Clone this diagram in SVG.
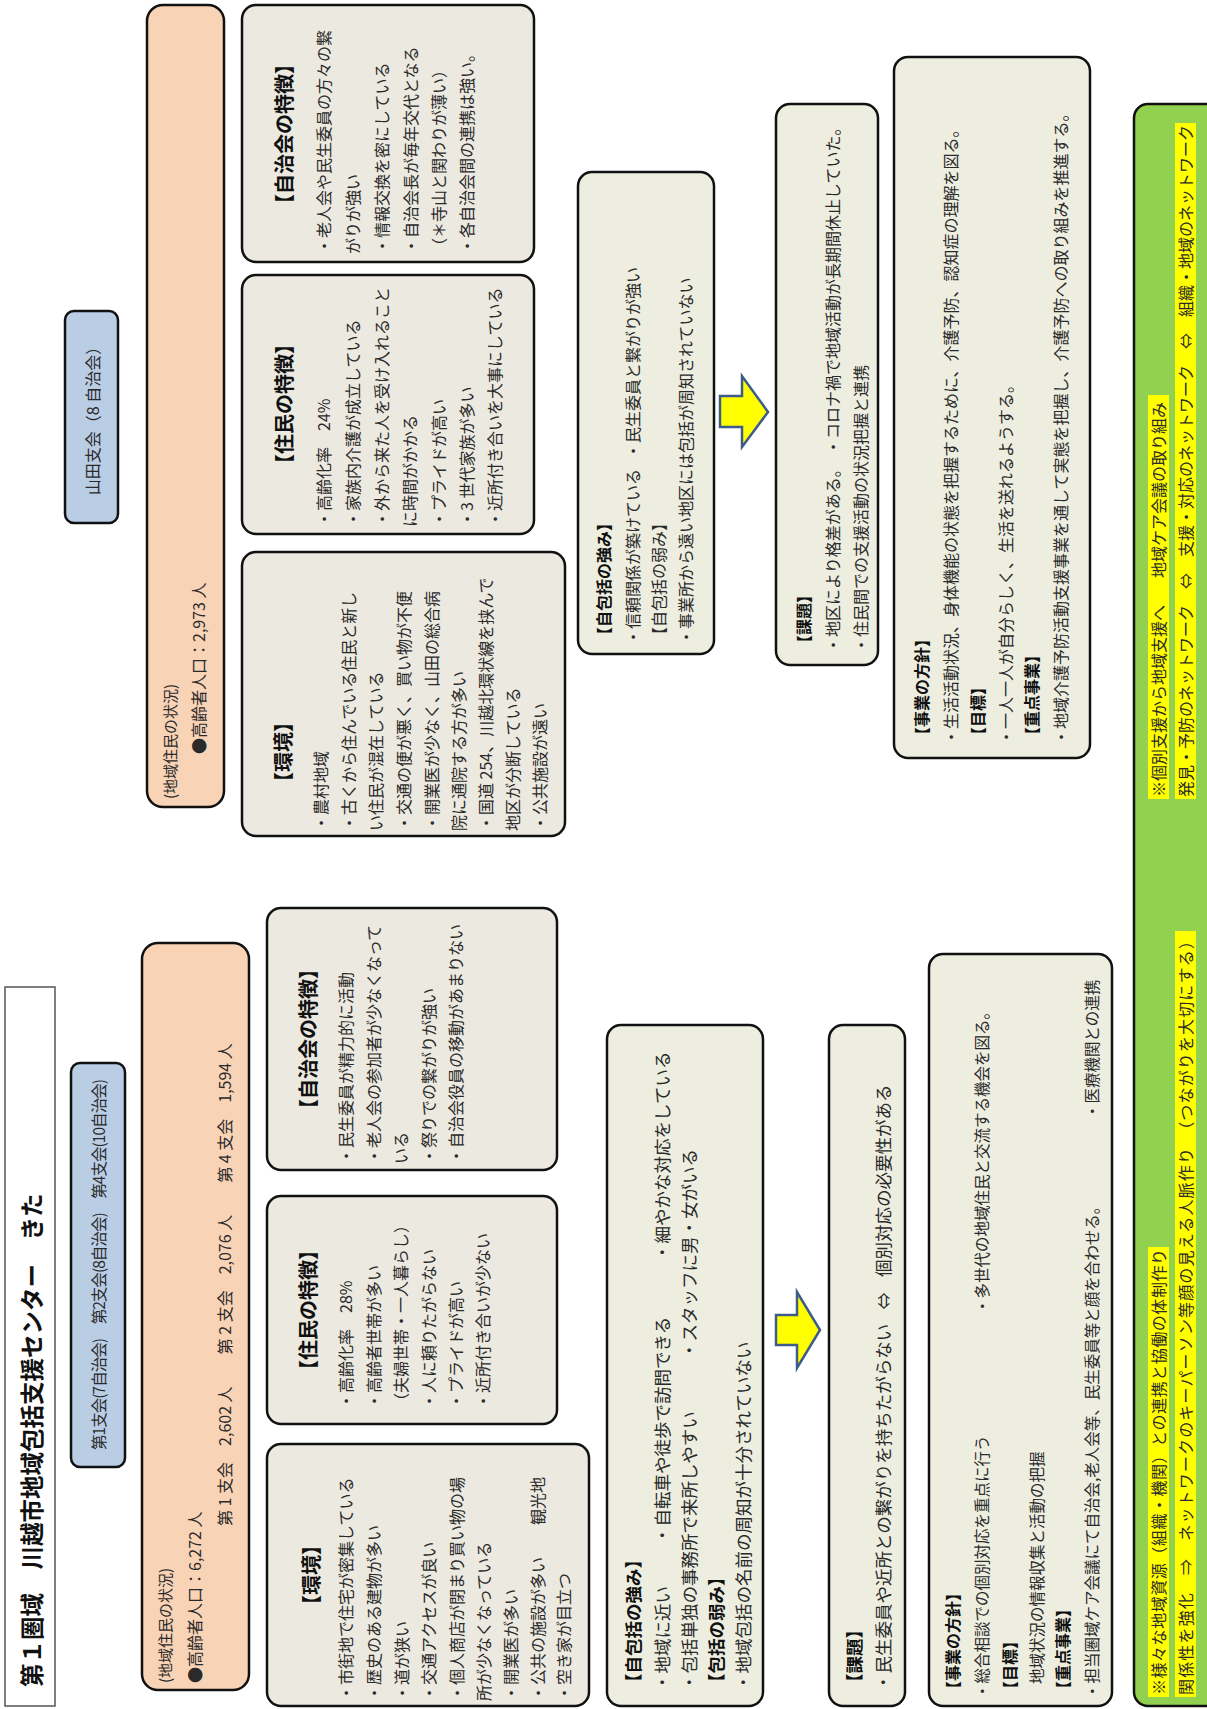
<svg xmlns="http://www.w3.org/2000/svg" width="1207" height="1709" viewBox="0 0 1207 1709">
<style>
text{font-family:"Noto Sans CJK JP","Noto Sans CJK SC",sans-serif;dominant-baseline:central;fill:#2a2a2a;font-size:16px}
.h{font-size:20px;font-weight:bold;fill:#111}
.hb{font-weight:bold;fill:#111}
.ttl{font-size:23.5px;font-weight:bold;fill:#111}
.s17{font-size:17.5px}
.s145{font-size:15.5px}
.m{text-anchor:middle}
.bx{stroke:#111;stroke-width:2.5}
.env{fill:#ECE9E0}
.cmp{fill:#EDEEE0}
.org{fill:#F8D3B6}
.blu{fill:#B9CDE5}
.grn{fill:#92D050}
.hl{fill:#FFFF00}
.arr{fill:#FFFF00;stroke:#3E5C8A;stroke-width:2.5;stroke-linejoin:miter}
</style>
<rect width="1207" height="1709" fill="#fff"/>
<g transform="translate(0,1709) rotate(-90)">
  <g id="title">
    <rect x="3" y="5" width="719" height="50" fill="#fff" stroke="#555" stroke-width="1.5"/>
    <text class="ttl" x="22" y="31">第１圏域　川越市地域包括支援センター　きた</text>
  </g>
  <g id="shikai-left">
    <rect class="bx blu" x="242" y="71" width="404" height="54" rx="9"/>
    <text x="259" y="98" style="font-size:15.5px" textLength="371" lengthAdjust="spacing">第1支会(7自治会)　第2支会(8自治会)　第4支会(10自治会)</text>
  </g>
  <g id="jokyo-left">
    <rect class="bx org" x="19" y="142" width="747" height="107" rx="16"/>
    <text x="26" y="164" style="font-size:15px">(地域住民の状況)</text>
    <text x="26" y="194">●高齢者人口：6,272 人</text>
    <text x="183" y="224">第 1 支会　2,602 人　　第 2 支会　2,076 人　　第 4 支会　1,594 人</text>
  </g>
  <g id="shikai-right">
    <rect class="bx blu" x="1186" y="65" width="212" height="53" rx="9"/>
    <text class="m" x="1292" y="92">山田支会（8 自治会）</text>
  </g>
  <g id="jokyo-right">
    <rect class="bx org" x="902" y="147" width="802" height="77" rx="16"/>
    <text x="910" y="169" style="font-size:15px">(地域住民の状況)</text>
    <text x="955" y="198">●高齢者人口：2,973 人</text>
  </g>

  <g id="kankyo-left">
    <rect class="bx env" x="3" y="267" width="262" height="322" rx="14"/>
    <text class="h m" x="134" y="310">【環境】</text>
    <text x="8" y="345">・市街地で住宅が密集している</text>
    <text x="8" y="373">・歴史のある建物が多い</text>
    <text x="8" y="401">・道が狭い</text>
    <text x="8" y="428">・交通アクセスが良い</text>
    <text x="8" y="456">・個人商店が閉まり買い物の場</text>
    <text x="8" y="483">所が少なくなっている</text>
    <text x="8" y="510">・開業医が多い</text>
    <text x="8" y="537">・公共の施設が多い　　観光地</text>
    <text x="8" y="563">・空き家が目立つ</text>
  </g>
  <g id="jumin-left">
    <rect class="bx env" x="285" y="267" width="228" height="290" rx="14"/>
    <text class="h m" x="399" y="307">【住民の特徴】</text>
    <text x="300" y="345">・高齢化率　28%</text>
    <text x="300" y="373">・高齢者世帯が多い</text>
    <text x="300" y="400">（夫婦世帯・一人暮らし）</text>
    <text x="300" y="428">・人に頼りたがらない</text>
    <text x="300" y="455">・プライドが高い</text>
    <text x="300" y="482">・近所付き合いが少ない</text>
  </g>
  <g id="jichikai-left">
    <rect class="bx env" x="539" y="267" width="262" height="290" rx="14"/>
    <text class="h m" x="670" y="307">【自治会の特徴】</text>
    <text x="545" y="345">・民生委員が精力的に活動</text>
    <text x="545" y="373">・老人会の参加者が少なくなって</text>
    <text x="545" y="400">いる</text>
    <text x="545" y="428">・祭りでの繋がりが強い</text>
    <text x="545" y="455">・自治会役員の移動があまりない</text>
  </g>

  <g id="kankyo-right">
    <rect class="bx env" x="873" y="242" width="284" height="323" rx="14"/>
    <text class="h" x="917" y="282">【環境】</text>
    <text x="878" y="320">・農村地域</text>
    <text x="878" y="348">・古くから住んでいる住民と新し</text>
    <text x="878" y="375">い住民が混在している</text>
    <text x="878" y="403">・交通の便が悪く、買い物が不便</text>
    <text x="878" y="431">・開業医が少なく、山田の総合病</text>
    <text x="878" y="458">院に通院する方が多い</text>
    <text x="878" y="485">・国道 254、川越北環状線を挟んで</text>
    <text x="878" y="512">地区が分断している</text>
    <text x="878" y="539">・公共施設が遠い</text>
  </g>
  <g id="jumin-right">
    <rect class="bx env" x="1175" y="242" width="259" height="292" rx="14"/>
    <text class="h m" x="1305" y="283">【住民の特徴】</text>
    <text x="1182" y="323">・高齢化率　24%</text>
    <text x="1182" y="352">・家族内介護が成立している</text>
    <text x="1182" y="381">・外から来た人を受け入れること</text>
    <text x="1182" y="409">に時間がかかる</text>
    <text x="1182" y="438">・プライドが高い</text>
    <text x="1182" y="466">・3 世代家族が多い</text>
    <text x="1182" y="494">・近所付き合いを大事にしている</text>
  </g>
  <g id="jichikai-right">
    <rect class="bx env" x="1447" y="242" width="257" height="292" rx="14"/>
    <text class="h m" x="1575" y="283">【自治会の特徴】</text>
    <text x="1455" y="323">・老人会や民生委員の方々の繋</text>
    <text x="1455" y="352">がりが強い</text>
    <text x="1455" y="381">・情報交換を密にしている</text>
    <text x="1455" y="410">・自治会長が毎年交代となる</text>
    <text x="1455" y="438">（＊寺山と関わりが薄い）</text>
    <text x="1455" y="466">・各自治会間の連携は強い。</text>
  </g>

  <g id="tsuyomi-left">
    <rect class="bx cmp" x="3" y="607" width="681" height="156" rx="14"/>
    <text class="hb s17" x="18" y="632">【自包括の強み】</text>
    <text class="s17" x="18" y="661">・地域に近い</text>
    <text class="s17" x="165" y="661">・自転車や徒歩で訪問できる</text>
    <text class="s17" x="448" y="661">・細やかな対応をしている</text>
    <text class="s17" x="18" y="688">・包括単独の事務所で来所しやすい</text>
    <text class="s17" x="350" y="688">・スタッフに男・女がいる</text>
    <text class="hb s17" x="18" y="715">【包括の弱み】</text>
    <text class="s17" x="18" y="742">・地域包括の名前の周知が十分されていない</text>
  </g>
  <g id="kadai-left">
    <rect class="bx cmp" x="3" y="829" width="681" height="76" rx="14"/>
    <text class="hb s17" x="18" y="853">【課題】</text>
    <text class="s17" x="18" y="882">・民生委員や近所との繋がりを持ちたがらない</text>
    <text class="m s17" x="408" y="882">⇔</text>
    <text class="s17" x="432" y="882">個別対応の必要性がある</text>
  </g>
  <g id="hoshin-left">
    <rect class="bx cmp" x="3" y="929" width="752" height="183" rx="14"/>
    <text class="hb" x="12" y="952">【事業の方針】</text>
    <text class="s145" x="10" y="981">・総合相談での個別対応を重点に行う</text>
    <text class="s145" x="395" y="981">・多世代の地域住民と交流する機会を図る。</text>
    <text class="hb" x="12" y="1009">【目標】</text>
    <text class="s145" x="25" y="1036">地域状況の情報収集と活動の把握</text>
    <text class="hb" x="12" y="1062">【重点事業】</text>
    <text class="s145" x="10" y="1091">・担当圏域ケア会議にて自治会,老人会等、民生委員等と顔を合わせる。</text>
    <text class="s145" x="590" y="1091">・医療機関との連携</text>
  </g>

  <g id="tsuyomi-right">
    <rect class="bx cmp" x="1055" y="578" width="482" height="136" rx="14"/>
    <text class="hb" x="1066" y="603">【自包括の強み】</text>
    <text x="1064" y="632">・信頼関係が築けている</text>
    <text x="1250" y="632">・民生委員と繋がりが強い</text>
    <text x="1066" y="658">【自包括の弱み】</text>
    <text x="1064" y="685">・事業所から遠い地区には包括が周知されていない</text>
  </g>
  <g id="kadai-right">
    <rect class="bx cmp" x="1044" y="776" width="561" height="102" rx="14"/>
    <text class="hb" x="1058" y="803">【課題】</text>
    <text x="1056" y="832">・地区により格差がある。</text>
    <text x="1254" y="832">・コロナ禍で地域活動が長期間休止していた。</text>
    <text x="1056" y="860">・住民間での支援活動の状況把握と連携</text>
  </g>
  <g id="hoshin-right">
    <rect class="bx cmp" x="951" y="894" width="701" height="196" rx="14"/>
    <text class="hb" x="966" y="921">【事業の方針】</text>
    <text x="964" y="950">・生活活動状況、身体機能の状態を把握するために、介護予防、認知症の理解を図る。</text>
    <text class="hb" x="966" y="977">【目標】</text>
    <text x="964" y="1005">・一人一人が自分らしく、生活を送れるようする。</text>
    <text class="hb" x="966" y="1031">【重点事業】</text>
    <text x="964" y="1060">・地域介護予防活動支援事業を通して実態を把握し、介護予防への取り組みを推進する。</text>
  </g>

  <g id="network">
    <rect class="bx grn" x="3" y="1134" width="1602" height="95" rx="14"/>
    <rect class="hl" x="12" y="1148" width="450" height="21"/>
    <text x="14" y="1158" textLength="446">※様々な地域資源（組織・機関）との連携と協働の体制作り</text>
    <rect class="hl" x="12" y="1175" width="766" height="21"/>
    <text x="14" y="1185" textLength="762">関係性を強化　⇒　ネットワークのキーパーソン等顔の見える人脈作り　（つながりを大切にする）</text>
    <rect class="hl" x="910" y="1148" width="404" height="21"/>
    <text x="912" y="1158">※個別支援から地域支援へ</text>
    <text x="1131" y="1158">地域ケア会議の取り組み</text>
    <rect class="hl" x="910" y="1175" width="676" height="21"/>
    <text x="912" y="1185" textLength="672">発見・予防のネットワーク　⇔　支援・対応のネットワーク　⇔　組織・地域のネットワーク</text>
  </g>

  <g id="connectors">
    <polygon class="arr" points="364,776 394,776 394,797 417,797 379,820 341,797 364,797"/>
    <polygon class="arr" points="1282,720 1313,720 1313,742 1333,742 1297,768 1262,742 1282,742"/>
  </g>
</g>
</svg>
